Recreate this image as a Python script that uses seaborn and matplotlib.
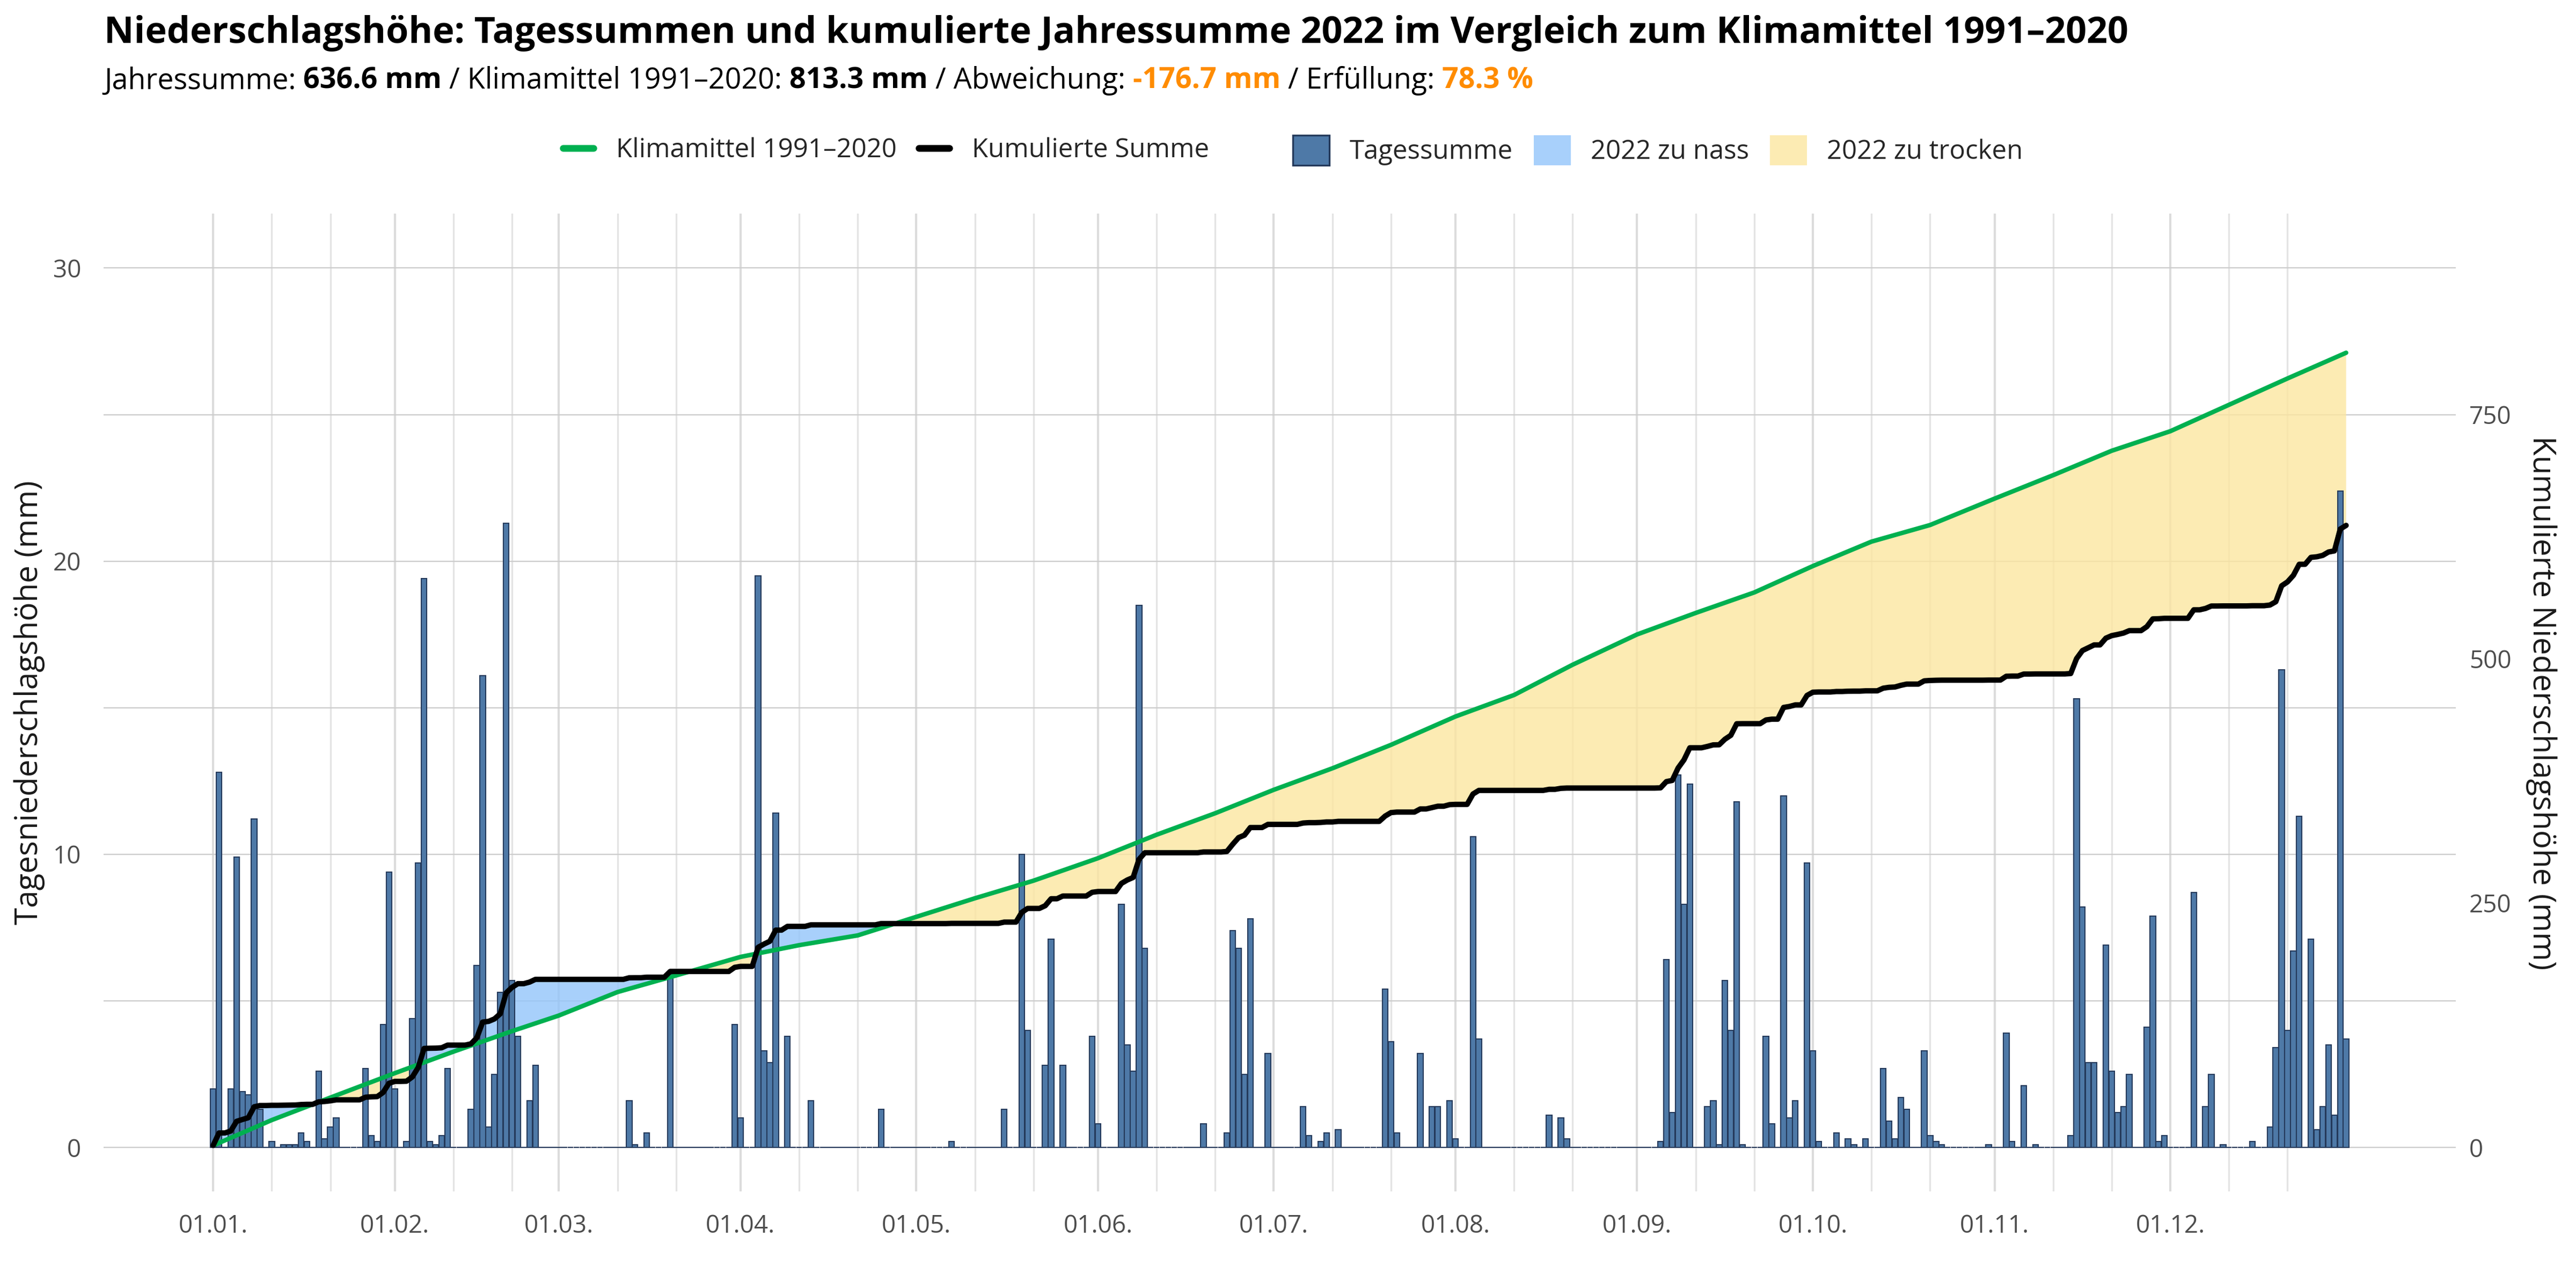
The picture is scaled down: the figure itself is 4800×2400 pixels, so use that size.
import numpy as np
import pandas as pd
import seaborn as sns
import matplotlib.pyplot as plt
from matplotlib.lines import Line2D
from matplotlib.patches import Patch

# Tagessummen 2022 (mm), je Monat
jan = [2.0, 12.8, 0, 2.0, 9.9, 1.9, 1.8, 11.2, 1.3, 0, 0.2, 0, 0.1, 0.1, 0.1, 0.5, 0.2, 0, 2.6, 0.3,
       0.7, 1.0, 0, 0, 0, 0, 2.7, 0.4, 0.2, 4.2, 9.4]
feb = [2.0, 0, 0.2, 4.4, 9.7, 19.4, 0.2, 0.1, 0.4, 2.7, 0, 0, 0, 1.3, 6.2, 16.1, 0.7, 2.5, 5.3, 21.3,
       5.7, 3.8, 0, 1.6, 2.8, 0, 0, 0]
mar = [0, 0, 0, 0, 0, 0, 0, 0, 0, 0, 0, 0, 1.6, 0.1, 0, 0.5, 0, 0, 0, 5.9,
       0, 0, 0, 0, 0, 0, 0, 0, 0, 0, 4.2]
apr = [1.0, 0, 0, 19.5, 3.3, 2.9, 11.4, 0, 3.8, 0, 0, 0, 1.6, 0, 0, 0, 0, 0, 0, 0,
       0, 0, 0, 0, 1.3, 0, 0, 0, 0, 0]
mai = [0, 0, 0, 0, 0, 0, 0.2, 0, 0, 0, 0, 0, 0, 0, 0, 1.3, 0, 0, 10.0, 4.0,
       0, 0, 2.8, 7.1, 0, 2.8, 0, 0, 0, 0, 3.8]
jun = [0.8, 0, 0, 0, 8.3, 3.5, 2.6, 18.5, 6.8, 0, 0, 0, 0, 0, 0, 0, 0, 0, 0.8, 0,
       0, 0, 0.5, 7.4, 6.8, 2.5, 7.8, 0, 0, 3.2]
jul = [0, 0, 0, 0, 0, 1.4, 0.4, 0, 0.2, 0.5, 0, 0.6, 0, 0, 0, 0, 0, 0, 0, 5.4,
       3.6, 0.5, 0, 0, 0, 3.2, 0, 1.4, 1.4, 0, 1.6]
aug = [0.3, 0, 0, 10.6, 3.7, 0, 0, 0, 0, 0, 0, 0, 0, 0, 0, 0, 1.1, 0, 1.0, 0.3,
       0, 0, 0, 0, 0, 0, 0, 0, 0, 0, 0]
sep = [0, 0, 0, 0, 0.2, 6.4, 1.2, 12.7, 8.3, 12.4, 0, 0, 1.4, 1.6, 0.1, 5.7, 4.0, 11.8, 0.1, 0,
       0, 0, 3.8, 0.8, 0, 12.0, 1.0, 1.6, 0, 9.7]
okt = [3.3, 0.2, 0, 0, 0.5, 0, 0.3, 0.1, 0, 0.3, 0, 0, 2.7, 0.9, 0.3, 1.7, 1.3, 0, 0, 3.3,
       0.4, 0.2, 0.1, 0, 0, 0, 0, 0, 0, 0, 0.1]
nov = [0, 0, 3.9, 0.2, 0, 2.1, 0, 0.1, 0, 0, 0, 0, 0, 0.4, 15.3, 8.2, 2.9, 2.9, 0, 6.9,
       2.6, 1.2, 1.4, 2.5, 0, 0, 4.1, 7.9, 0.2, 0.4]
dez = [0, 0, 0, 0, 8.7, 0, 1.4, 2.5, 0, 0.1, 0, 0, 0, 0, 0.2, 0, 0, 0.7, 3.4, 16.3,
       4.0, 6.7, 11.3, 0, 7.1, 0.6, 1.4, 3.5, 1.1, 22.4, 3.7]

klima_tag = [0, 10, 20, 31, 41, 51, 59, 69, 79, 90, 100, 110, 120, 130, 140, 151, 161, 171, 181,
             191, 201, 212, 222, 232, 243, 253, 263, 273, 283, 293, 304, 314, 324, 334, 344, 354, 364]
klima_mm = [2, 28, 51, 76, 98, 119, 135, 159, 176, 195, 207, 217, 236, 255, 273, 296, 320, 342, 366,
            388, 412, 441, 463, 494, 525, 547, 568, 595, 620, 637, 664, 688, 713, 733, 760, 787, 813.3]

monatsanfang = [0, 31, 59, 90, 120, 151, 181, 212, 243, 273, 304, 334]
monat_labels = ['01.01.', '01.02.', '01.03.', '01.04.', '01.05.', '01.06.',
                '01.07.', '01.08.', '01.09.', '01.10.', '01.11.', '01.12.']

jahressumme = 636.6
klimamittel = 813.3
faktor = 30  # Skalierung rechte Achse

df = pd.DataFrame({'mm': np.concatenate([jan, feb, mar, apr, mai, jun, jul, aug, sep, okt, nov, dez])})
df['tag'] = np.arange(len(df))
df['kum'] = df['mm'].cumsum()

kl = pd.DataFrame({'tag': klima_tag, 'kum': klima_mm})

c_bar = '#4e79a7'
c_edge = '#24395a'
c_green = '#00b050'
c_nass = '#93c5fb'
c_trocken = '#fce6a0'
c_grau = '#4d4d4d'
c_orange = '#ff8c00'

sns.set_theme(style='white')
plt.rcParams['font.family'] = ['Open Sans', 'DejaVu Sans']

fig = plt.figure(figsize=(16, 8), dpi=300)
ax_box = [0.0402, 0.075, 0.9131, 0.759]
ax = fig.add_axes(ax_box)

# Flaechen zwischen kumulierter Summe und Klimamittel
kum_s = df['kum'].values / faktor
kl_s = np.interp(df['tag'], kl['tag'], kl['kum']) / faktor
ax.fill_between(df['tag'], kum_s, kl_s, where=kum_s >= kl_s, interpolate=True,
                color=c_nass, alpha=0.8, lw=0, zorder=1)
ax.fill_between(df['tag'], kum_s, kl_s, where=kum_s <= kl_s, interpolate=True,
                color=c_trocken, alpha=0.8, lw=0, zorder=1)

# Tagessummen
sns.barplot(data=df, x='tag', y='mm', native_scale=True, color=c_bar, saturation=1,
            edgecolor=c_edge, linewidth=0.5, width=0.95, errorbar=None, ax=ax, zorder=2)

# Linien
sns.lineplot(x=kl['tag'], y=kl['kum'] / faktor, color=c_green, lw=2.0, ax=ax, zorder=4)
sns.lineplot(x=df['tag'], y=df['kum'] / faktor, color='black', lw=2.4, ax=ax, zorder=5)

ax.set_xlim(-18.7, 382.7)
ax.set_ylim(-1.5, 31.85)
ax.set_xticks(monatsanfang, monat_labels)
ax.set_xticks([m + d for m in monatsanfang for d in (10, 20)], minor=True)
ax.set_yticks([0, 10, 20, 30])
ax.set_yticks([5, 15, 25], minor=True)
ax.grid(axis='y', which='both', color='#cccccc', lw=0.55)
ax.grid(axis='x', which='major', color='#dcdcdc', lw=1.0)
ax.grid(axis='x', which='minor', color='#e4e4e4', lw=0.8)
ax.set_axisbelow(True)
ax.tick_params(which='both', length=0, labelsize=11, labelcolor=c_grau, pad=10)
ax.set_xlabel('')
ax.set_ylabel('')
for s in ax.spines.values():
    s.set_visible(False)

sec = ax.secondary_yaxis('right', functions=(lambda y: y * faktor, lambda y: y / faktor))
sec.set_yticks([0, 250, 500, 750])
sec.tick_params(length=0, labelsize=11, labelcolor=c_grau, pad=6)
for s in sec.spines.values():
    s.set_visible(False)

# Achsentitel
y_mitte = ax_box[1] + ax_box[3] / 2
fig.text(0.0115, y_mitte, 'Tagesniederschlagshöhe (mm)', rotation=90, fontsize=14,
         color='#1a1a1a', ha='center', va='center')
fig.text(0.9865, y_mitte, 'Kumulierte Niederschlagshöhe (mm)', rotation=270, fontsize=14,
         color='#1a1a1a', ha='center', va='center')

# Titel und Untertitel
fig.text(0.0404, 0.9667,
         'Niederschlagshöhe: Tagessummen und kumulierte Jahressumme 2022 im Vergleich zum Klimamittel 1991–2020',
         fontsize=16.4, fontweight='bold', color='black', va='baseline')

abw = jahressumme - klimamittel
teile = [('Jahressumme: ', 'normal', 'black'),
         (f'{jahressumme:.1f} mm', 'bold', 'black'),
         (' / Klimamittel 1991–2020: ', 'normal', 'black'),
         (f'{klimamittel:.1f} mm', 'bold', 'black'),
         (' / Abweichung: ', 'normal', 'black'),
         (f'{abw:.1f} mm', 'bold', c_orange),
         (' / Erfüllung: ', 'normal', 'black'),
         (f'{jahressumme / klimamittel * 100:.1f} %', 'bold', c_orange)]
renderer = fig.canvas.get_renderer()
x = 0.0404
for txt, w, c in teile:
    t = fig.text(x, 0.9313, txt, fontsize=12.9, fontweight=w, color=c, va='baseline')
    bb = t.get_window_extent(renderer)
    x = bb.x1 / fig.bbox.width

# Legenden
h_lines = [Line2D([], [], color=c_green, lw=3), Line2D([], [], color='black', lw=3)]
fig.legend(h_lines, ['Klimamittel 1991–2020', 'Kumulierte Summe'], loc='center',
           bbox_to_anchor=(0.344, 0.8833), ncol=2, frameon=False, fontsize=11.8,
           handlelength=1.15, handletextpad=0.85, columnspacing=0.85)
h_fill = [Patch(facecolor=c_bar, edgecolor=c_edge, lw=0.8),
          Patch(facecolor=c_nass, alpha=0.8, lw=0),
          Patch(facecolor=c_trocken, alpha=0.8, lw=0)]
fig.legend(h_fill, ['Tagessumme', '2022 zu nass', '2022 zu trocken'], loc='center',
           bbox_to_anchor=(0.6435, 0.8833), ncol=3, frameon=False, fontsize=11.8,
           handlelength=1.4, handleheight=1.4, handletextpad=0.75, columnspacing=0.8)

fig.savefig('out.png', dpi=300)
